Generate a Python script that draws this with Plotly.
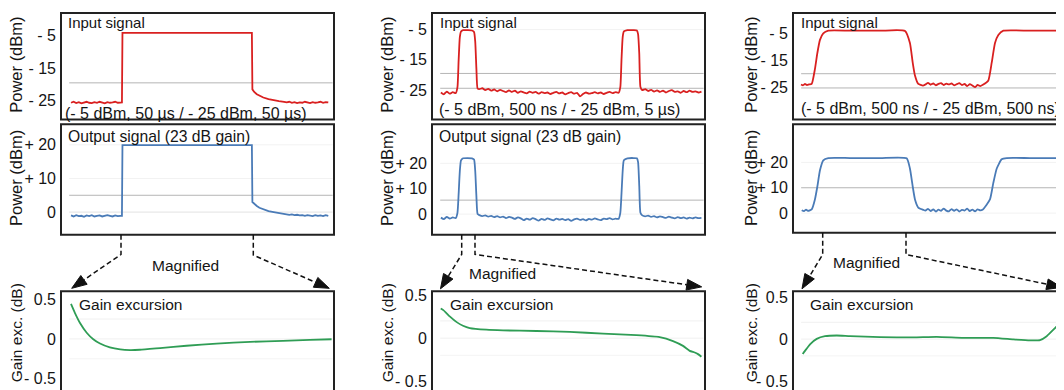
import math
import plotly.graph_objects as go

W, H = 1064, 390          # size of the reference picture
OX, OY = 8, 8             # the page body margin shifts the figure by 8 px
FW, FH = W - OX, H - OY   # figure size so that it ends at the window edge

# ---------------- data ----------------
# Column 1: -5 dBm 50 us / -25 dBm 50 us   (time in microseconds)
T1 = [0, 1, 2, 3, 4, 5, 6, 7, 8, 9, 10, 11, 12, 13, 14, 15, 16, 17, 18, 19, 19.6, 19.8,
      22, 25, 28, 31, 34, 37, 40, 43, 46, 49, 52, 55, 58, 61, 64, 67, 69.6, 69.8,
      70.5, 71.5, 72.5, 74, 76, 78, 80, 82,
      83, 84, 85, 86, 87, 88, 89, 90, 91, 92, 93, 94, 95, 96, 97, 98, 99]
P1_IN = [-25.6, -25.3, -25.7, -25.4, -25.8, -25.5, -25.3, -25.6, -25.7, -25.4, -25.6, -25.3,
         -25.5, -25.8, -25.4, -25.6, -25.5, -25.3, -25.6, -25.4, -25.5, -4.2,
         -4.2, -4.2, -4.1, -4.2, -4.2, -4.3, -4.2, -4.2, -4.1, -4.2, -4.2, -4.2, -4.3, -4.2, -4.2, -4.2,
         -4.2, -21.5,
         -22.3, -23.0, -23.5, -24.0, -24.5, -24.9, -25.1, -25.3,
         -25.5, -25.3, -25.6, -25.4, -25.7, -25.5, -25.6, -25.3, -25.5, -25.7, -25.4, -25.6,
         -25.5, -25.3, -25.6, -25.4, -25.5]
P1_OUT = [-1.0, -1.3, -0.9, -1.2, -1.1, -1.4, -1.0, -1.2, -0.9, -1.3, -1.1, -1.0, -1.3, -1.2,
          -0.9, -1.1, -1.3, -1.0, -1.2, -1.1, -1.1, 19.9,
          19.9, 19.9, 19.8, 19.9, 19.9, 19.9, 19.8, 19.9, 19.9, 19.9, 19.9, 19.8, 19.9, 19.9, 19.9, 19.9,
          19.9, 3.0,
          2.4, 1.8, 1.3, 0.8, 0.3, 0.0, -0.3, -0.5,
          -0.6, -0.8, -0.7, -0.9, -0.8, -1.0, -0.9, -1.1, -0.9, -1.0, -1.2, -0.9, -1.1, -1.0,
          -1.2, -0.9, -1.1]
T1_GAIN = [0, 0.77, 1.74, 3.03, 4.3, 5.6, 7.5, 9.5, 11.4, 13.3, 17.2, 22.3, 28.1, 34.6, 40.9, 46.1, 50.3]
G1 = [0.44, 0.325, 0.2, 0.078, -0.004, -0.058, -0.107, -0.132, -0.14, -0.136, -0.115,
      -0.086, -0.058, -0.037, -0.025, -0.012, -0.004]

# Column 2: -5 dBm 500 ns / -25 dBm 5 us   (time in microseconds)
T2 = [0.0, 0.1, 0.2, 0.3, 0.4, 0.5,
      0.56, 0.6, 0.64, 0.68, 0.75, 0.9, 1.05, 1.12, 1.16, 1.2, 1.24,
      1.3, 1.4, 1.5, 1.6, 1.7, 1.8, 1.9, 2.0, 2.1, 2.2, 2.3, 2.4, 2.5, 2.6, 2.7, 2.8, 2.9,
      3.0, 3.1, 3.2, 3.3, 3.4, 3.5, 3.6, 3.7, 3.8, 3.9, 4.0, 4.1, 4.2, 4.3, 4.4, 4.5, 4.6,
      4.7, 4.8, 4.9, 5.0, 5.1, 5.2, 5.3, 5.4, 5.5, 5.6, 5.7, 5.8, 5.9, 6.0,
      6.06, 6.1, 6.14, 6.18, 6.3, 6.5, 6.62, 6.66, 6.7, 6.74,
      6.8, 6.9, 7.0, 7.1, 7.2, 7.3, 7.4, 7.5, 7.6, 7.7, 7.8, 7.9, 8.0, 8.1, 8.2, 8.3, 8.4,
      8.5, 8.6, 8.7, 8.8]
P2_IN = [-25.8, -26.4, -25.5, -26.2, -25.7, -26.0,
         -24.0, -15.0, -7.5, -5.6, -5.2, -5.2, -5.3, -5.8, -9.0, -18.0, -24.5,
         -24.7, -24.4, -25.0, -24.6, -25.2, -24.8, -25.4, -24.9, -25.3, -25.7,
         -25.1, -25.6, -25.2, -25.9, -25.4, -25.8, -26.1, -25.5, -25.9, -25.6,
         -26.2, -25.7, -26.0, -25.8, -26.3, -25.9, -25.6, -26.1, -25.8, -26.4,
         -26.0, -25.7, -26.2, -25.9, -27.1, -26.3, -25.8, -26.2, -26.0, -25.7,
         -26.1, -25.8, -26.3, -25.9, -25.6, -26.0, -25.7, -25.9,
         -24.0, -15.0, -7.5, -5.6, -5.2, -5.2, -5.3, -6.5, -13.0, -24.0,
         -25.0, -24.7, -25.3, -24.9, -25.5, -25.1, -25.6, -25.2, -25.8, -25.3, -25.0,
         -25.6, -25.4, -25.9, -25.3, -25.7, -25.2, -25.6, -25.4, -25.8, -25.5]
P2_OUT = [-1.4, -2.0, -1.1, -1.8, -1.3, -1.6,
          0.5, 8.0, 17.0, 21.2, 22.0, 22.1, 22.0, 21.5, 17.0, 7.0, 0.0,
          -0.4, -0.8, -0.5, -1.0, -0.7, -1.2, -0.8, -1.3, -1.0, -1.6,
          -1.1, -1.4, -1.9, -1.3, -1.7, -2.4, -1.8, -2.2, -1.6, -2.0,
          -2.6, -1.9, -2.3, -1.7, -2.1, -2.5, -1.8, -2.2, -1.9, -2.4,
          -2.0, -2.7, -2.1, -1.8, -2.3, -2.0, -2.5, -1.9, -2.2, -1.7,
          -2.1, -2.4, -1.8, -2.0, -1.6, -2.1, -1.8, -1.9,
          0.5, 8.0, 17.0, 21.2, 22.0, 22.1, 22.0, 20.5, 11.0, 0.5,
          -0.5, -0.9, -0.6, -1.1, -0.8, -1.3, -0.9, -1.2, -1.5, -1.0, -1.4,
          -1.7, -1.2, -1.6, -1.3, -1.8, -1.4, -1.7, -1.3, -1.6, -1.5]
T2_GAIN = [0, 5, 17.8, 30.6, 42.7, 55.6, 87.5, 119.3, 183.3, 247.1, 310.9, 374.9, 419.5,
           445, 464.2, 477, 486.6, 492.9, 499.4]
G2 = [0.344, 0.326, 0.25, 0.186, 0.144, 0.117, 0.098, 0.09, 0.083, 0.072, 0.053, 0.034,
      0.011, -0.034, -0.09, -0.148, -0.167, -0.186, -0.216]

# Column 3: -5 dBm 500 ns / -25 dBm 500 ns   (time in nanoseconds)
T3_IN = [0, 11.5, 23, 34.5, 46, 61.5, 80, 94, 109, 128, 157, 282, 454, 598, 626, 642, 655, 674, 701,
         715, 730, 745, 760, 775, 790, 805, 820, 835, 850, 865, 880, 895, 910, 925, 940, 955,
         970, 985, 1000, 1015, 1030, 1045,
         1076, 1096, 1115, 1134, 1163, 1316, 1511]
P3_IN = [-24.0, -24.3, -23.8, -24.2, -24.0, -23.8, -18.3, -12.3, -7.4, -5.0, -4.0, -4.0, -4.0,
         -4.1, -8.6, -15.9, -20.7, -23.8, -24.4,
         -24.0, -23.4, -24.1, -23.6, -24.3, -23.8, -23.5, -24.2, -23.7, -24.0, -23.6, -24.3,
         -23.9, -23.5, -24.2, -23.8, -24.6, -23.9, -24.4, -25.0, -24.2, -24.6, -24.1,
         -22.6, -15.9, -8.6, -5.6, -4.0, -4.0, -4.0]
T3_OUT = [4, 17, 29, 40, 61.5, 80, 94, 109, 128, 157, 282, 454, 607, 626, 642, 655, 674, 703,
          715, 730, 745, 760, 775, 790, 805, 820, 835, 850, 865, 880, 895, 910, 925, 940, 955,
          970, 985, 1000, 1015, 1030, 1045,
          1086, 1105, 1125, 1153, 1182, 1316, 1511]
P3_OUT = [1.15, 0.8, 1.4, 0.9, 1.5, 5.4, 10.5, 16.9, 20.8, 21.7, 21.7, 21.7, 21.6, 17.6, 10.5,
          5.4, 2.2, 1.3,
          1.0, 1.7, 0.8, 1.5, 0.6, 1.4, 0.9, 1.8, 1.0, 0.7, 1.6, 0.9, 1.5, 0.6, 1.3, 1.0, 1.8,
          0.8, 1.4, 0.7, 1.5, 1.1, 1.4,
          5.4, 11.8, 17.6, 21.2, 21.7, 21.7, 21.7]
T3_GAIN = [0, 4.6, 14.6, 28, 44.6, 68, 94.6, 154.6, 221.2, 268, 321.2, 381.2, 421.2, 454.6,
           474.6, 488, 504.6, 521.2]
G3 = [-0.178, -0.14, -0.062, 0.003, 0.035, 0.043, 0.035, 0.023, 0.02, 0.027, 0.015, 0.015,
      -0.003, -0.015, -0.012, 0.035, 0.131, 0.229]

POWER_IN_TICKS = [-5, -15, -25]
POWER_IN_TEXT = ["- 5", "- 15", "- 25"]
POWER_OUT_TICKS = [20, 10, 0]
POWER_OUT_TEXT = ["+ 20", "+ 10", "0"]
GAIN_TICKS = [0.5, 0, -0.5]
GAIN_TEXT = ["0.5", "0", "- 0.5"]

TITLE_IN = "Input signal"
TITLE_OUT = "Output signal (23 dB gain)"
TITLE_GAIN = "Gain excursion"
SUBTITLES = ["(- 5 dBm, 50 µs / - 25 dBm, 50 µs)",
             "(- 5 dBm, 500 ns / - 25 dBm, 5 µs)",
             "(- 5 dBm, 500 ns / - 25 dBm, 500 ns)"]

# ---------------- layout helpers ----------------
RED = "#d92020"
BLUE = "#4a7bb7"
GREEN = "#2f9d55"
INK = "#151515"
FONT = "Liberation Sans, Arial, sans-serif"


def px(x):
    return (x - OX) / FW


def py(y):
    return 1 - (y - OY) / FH


fig = go.Figure()

# (idx, left, right, top, bottom, xrange, yrange, ticks, ticktext, x, y, color, shape)
panels = [
    (1, 61, 334, 9, 118, [-3.85, 101.2], [-30.7, 1.9], POWER_IN_TICKS, POWER_IN_TEXT, T1, P1_IN, RED, "linear"),
    (2, 61, 334, 123, 236, [-3.85, 101.2], [-6.7, 26.1], POWER_OUT_TICKS, POWER_OUT_TEXT, T1, P1_OUT, BLUE, "linear"),
    (3, 61, 334, 294, 390, [-1.93, 50.77], [-0.58, 0.6], GAIN_TICKS, GAIN_TEXT, T1_GAIN, G1, GREEN, "spline"),
    (4, 432, 705, 9, 118, [-0.30, 8.92], [-34.7, 0.5], POWER_IN_TICKS, POWER_IN_TEXT, T2, P2_IN, RED, "spline"),
    (5, 432, 705, 123, 236, [-0.30, 8.92], [-8.1, 35.4], POWER_OUT_TICKS, POWER_OUT_TEXT, T2, P2_OUT, BLUE, "spline"),
    (6, 432, 705, 294, 390, [-16.7, 506.3], [-0.545, 0.545], GAIN_TICKS, GAIN_TEXT, T2_GAIN, G2, GREEN, "spline"),
    (7, 793, 1064, 9, 118, [-46, 1511.5], [-37.0, 2.6], POWER_IN_TICKS, POWER_IN_TEXT, T3_IN, P3_IN, RED, "spline"),
    (8, 793, 1064, 123, 234, [-46, 1511.5], [-7.7, 35.0], POWER_OUT_TICKS, POWER_OUT_TEXT, T3_OUT, P3_OUT, BLUE, "spline"),
    (9, 793, 1064, 294, 390, [-19.4, 522.6], [-0.547, 0.57], GAIN_TICKS, GAIN_TEXT, T3_GAIN, G3, GREEN, "spline"),
]

layout_axes = {}
shapes = []
for idx, l, r, t, b, xr, yr, tv, tt, xs, ys, col, shp in panels:
    xa = "xaxis" if idx == 1 else f"xaxis{idx}"
    ya = "yaxis" if idx == 1 else f"yaxis{idx}"
    xn = "x" if idx == 1 else f"x{idx}"
    yn = "y" if idx == 1 else f"y{idx}"
    layout_axes[xa] = dict(domain=[px(l), min(px(r), 1.0)], range=xr, visible=False,
                           anchor=yn, fixedrange=True)
    layout_axes[ya] = dict(domain=[max(py(b), 0.0), py(t)], range=yr, anchor=xn,
                           tickvals=tv, ticktext=tt, showgrid=False, zeroline=False,
                           showline=False, ticks="", ticklabelstandoff=4,
                           ticklabeloverflow="allow",
                           tickfont=dict(family=FONT, size=16, color=INK), fixedrange=True)
    fig.add_trace(go.Scatter(x=xs, y=ys, mode="lines", xaxis=xn, yaxis=yn,
                             line=dict(color=col, width=1.8, shape=shp, smoothing=0.5),
                             hoverinfo="skip", showlegend=False))
    # frame (extends beyond the page where the reference is cut)
    rr = 1072 if r >= 1064 else r
    bb = 398 if b >= 390 else b
    shapes.append(dict(type="rect", xref="paper", yref="paper", x0=px(l), x1=px(rr),
                       y0=py(bb), y1=py(t), line=dict(color="#222222", width=2),
                       fillcolor="rgba(0,0,0,0)", layer="above"))

# light horizontal guide lines (axis units)
GUIDES = {
    1: [(-19.5, "#b5b5b5")],
    2: [(5.0, "#b5b5b5"), (0.0, "#e2e2e2"), (10, "#f2f2f2"), (20, "#f2f2f2")],
    3: [(0.25, "#f0f0f0"), (0.0, "#f0f0f0"), (-0.25, "#f4f4f4")],
    4: [(-19.5, "#b5b5b5"), (-24.4, "#b5b5b5"), (-5, "#f2f2f2")],
    5: [(5.5, "#b5b5b5"), (20, "#f2f2f2"), (0, "#f2f2f2")],
    6: [(0.2, "#f0f0f0"), (0.0, "#f0f0f0"), (-0.2, "#f4f4f4")],
    7: [(-20.0, "#b5b5b5"), (-25.3, "#b5b5b5")],
    8: [(10.0, "#b5b5b5"), (20, "#f2f2f2"), (0, "#f2f2f2")],
    9: [(0.2, "#f0f0f0"), (0.0, "#f0f0f0"), (-0.2, "#f4f4f4")],
}
for idx, lines in GUIDES.items():
    xd = "x domain" if idx == 1 else f"x{idx} domain"
    yn = "y" if idx == 1 else f"y{idx}"
    for val, c in lines:
        shapes.append(dict(type="line", xref=xd, yref=yn, x0=0.03, x1=0.995, y0=val, y1=val,
                           line=dict(color=c, width=1), layer="below"))


def arrow(points, head_len=15, head_w=5.5):
    (x1, y1), (x2, y2) = points[-2], points[-1]
    dx, dy = x2 - x1, y2 - y1
    L = math.hypot(dx, dy)
    ux, uy = dx / L, dy / L
    bx, by = x2 - ux * head_len, y2 - uy * head_len
    pts = points[:-1] + [(bx, by)]
    path = "M " + " L ".join(f"{px(a):.5f},{py(c):.5f}" for a, c in pts)
    out = [dict(type="path", xref="paper", yref="paper", path=path,
                line=dict(color="#111111", width=1.5, dash="5px,3px"), layer="above")]
    nx, ny = -uy, ux
    tri = [(x2, y2), (bx + nx * head_w, by + ny * head_w), (bx - nx * head_w, by - ny * head_w)]
    tpath = "M " + " L ".join(f"{px(a):.5f},{py(c):.5f}" for a, c in tri) + " Z"
    out.append(dict(type="path", xref="paper", yref="paper", path=tpath,
                    line=dict(color="#111111", width=1), fillcolor="#111111", layer="above"))
    return out


ARROWS = [
    [(121, 236), (121, 256.3), (71.7, 291)],
    [(253.3, 236), (253.3, 257), (329.3, 291)],
    [(461.7, 236), (461.7, 256.3), (440.5, 291.5)],
    [(475, 236), (475, 256.3), (701.7, 289.5)],
    [(822.7, 234), (822.7, 256.3), (802, 291.5)],
    [(906, 234), (906, 256.3), (1061.7, 290)],
]
for a in ARROWS:
    shapes.extend(arrow(a))

annotations = []


def text(x, y, s, size=15.5, anchor="left", angle=0):
    annotations.append(dict(x=px(x), y=py(y), xref="paper", yref="paper", text=s,
                            showarrow=False, xanchor=anchor, yanchor="middle",
                            textangle=angle, font=dict(family=FONT, size=size, color=INK)))


# titles inside panels
for x in (66, 438, 799):
    text(x, 19, TITLE_IN, size=15)
text(63, 112, SUBTITLES[0], size=16)
text(437, 108, SUBTITLES[1], size=16)
text(799, 107, SUBTITLES[2], size=16)
text(66, 136, TITLE_OUT, size=15.7)
text(437, 136, TITLE_OUT, size=15.7)
text(77, 308, TITLE_GAIN)
text(448, 308, TITLE_GAIN)
text(808, 308, TITLE_GAIN)
text(185, 268, "Magnified", anchor="center")
text(502, 276, "Magnified", anchor="center")
text(866, 265, "Magnified", anchor="center")

# axis titles
for x in (16, 387, 751):
    text(x, 62, "Power (dBm)", size=16.5, anchor="center", angle=-90)
    text(x, 178, "Power (dBm)", size=16.5, anchor="center", angle=-90)
    text(x, 337, "Gain exc. (dB)", size=15.5, anchor="center", angle=-90)

fig.update_layout(width=FW, height=FH, margin=dict(l=0, r=0, t=0, b=0),
                  paper_bgcolor="white", plot_bgcolor="white", showlegend=False,
                  shapes=shapes, annotations=annotations, **layout_axes)

fig.write_html("out.html")
